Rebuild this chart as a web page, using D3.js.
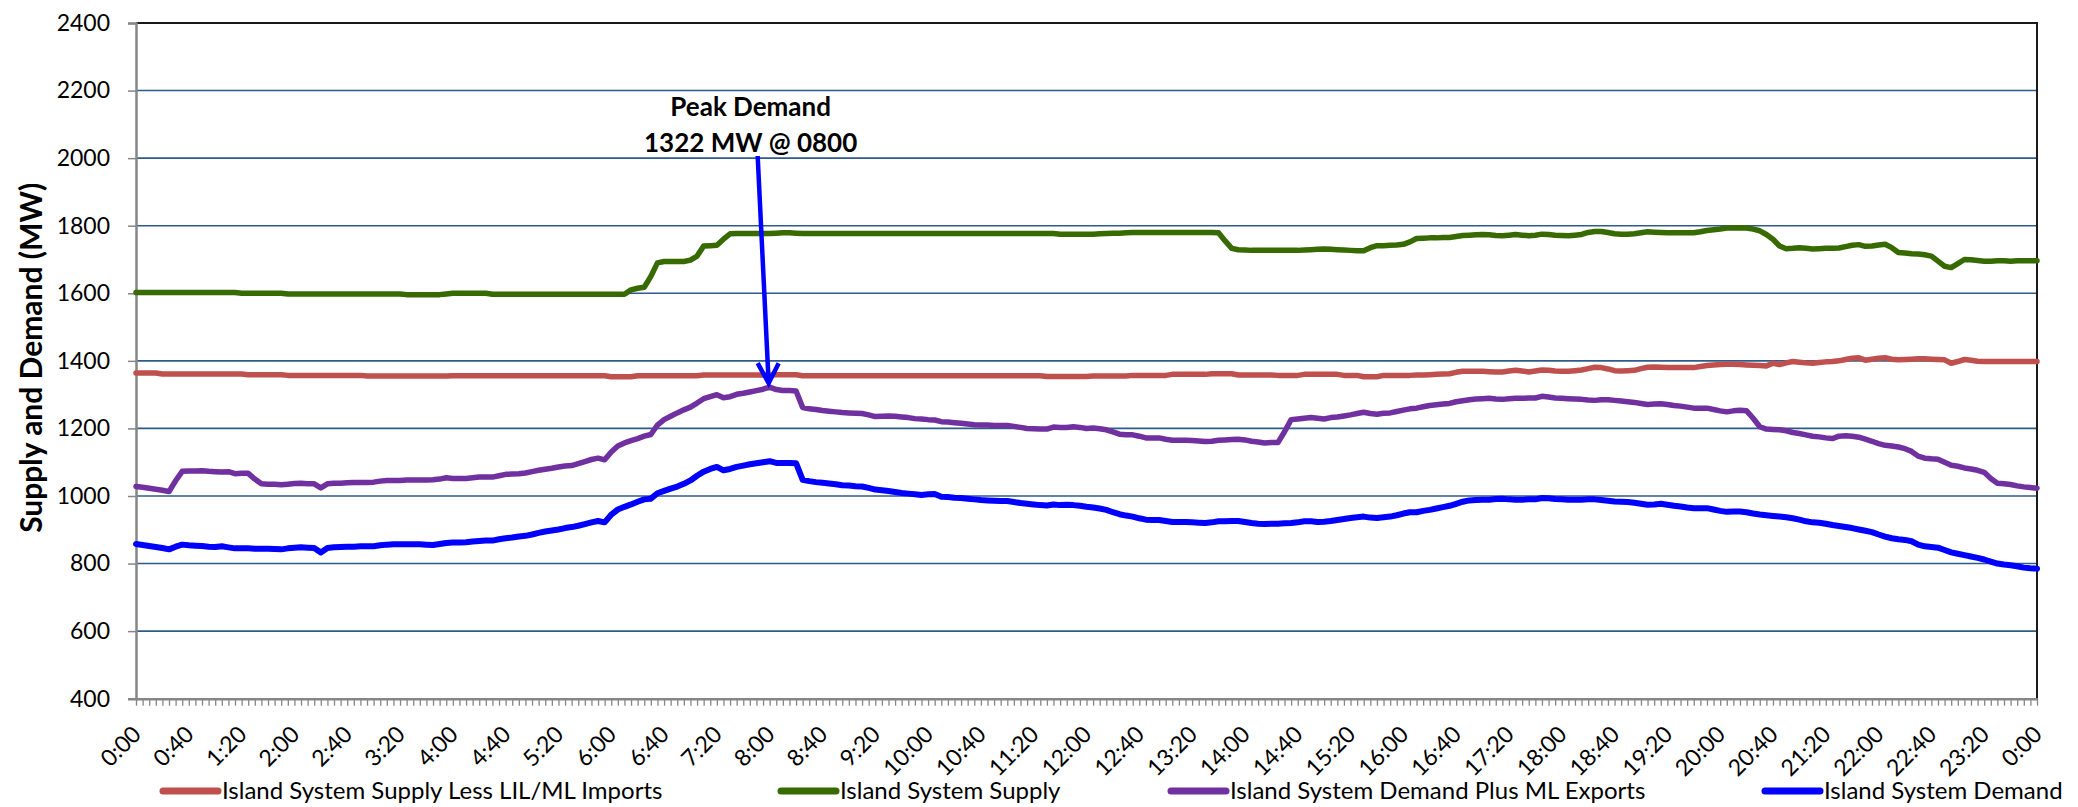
<!DOCTYPE html>
<html>
<head>
<meta charset="utf-8">
<script src="https://cdn.jsdelivr.net/npm/d3@7"></script>
<style>
  html, body { margin: 0; padding: 0; background: #fff; }
  svg { display: block; font-family: Lato, "Noto Sans", sans-serif; }
</style>
</head>
<body>
<svg id="chart"></svg>
<script>
// 5-minute readings from 0:00 to 0:00 the next day (289 points), MW
const supplyLessImports = [
  1364,1364,1364,1364,1361,1361,1361,1361,1361,1361,1361,1361,
  1361,1361,1361,1361,1361,1359,1359,1359,1359,1359,1359,1357,
  1357,1357,1357,1357,1357,1357,1357,1357,1357,1357,1357,1355,
  1355,1355,1355,1355,1355,1355,1355,1355,1355,1355,1355,1355,
  1356,1356,1356,1356,1356,1356,1356,1356,1356,1356,1356,1356,
  1356,1356,1356,1356,1356,1356,1356,1356,1356,1356,1356,1356,
  1353,1353,1353,1353,1356,1356,1356,1356,1356,1356,1356,1356,
  1356,1356,1358,1358,1358,1358,1358,1358,1358,1358,1358,1358,
  1358,1359,1359,1359,1359,1356,1356,1356,1356,1356,1356,1356,
  1356,1356,1356,1356,1356,1356,1356,1356,1356,1356,1356,1356,
  1356,1356,1356,1356,1356,1356,1356,1356,1356,1356,1356,1356,
  1356,1356,1356,1356,1356,1356,1354,1354,1354,1354,1354,1354,
  1354,1355,1355,1355,1355,1355,1355,1357,1357,1357,1357,1357,
  1357,1360,1360,1360,1360,1360,1360,1362,1362,1362,1362,1358,
  1358,1358,1358,1358,1358,1357,1357,1357,1357,1360,1360,1360,
  1360,1360,1360,1357,1357,1357,1353,1353,1353,1357,1357,1357,
  1357,1357,1358,1358,1359,1360,1361,1362,1366,1369,1369,1369,
  1369,1368,1367,1367,1370,1372,1370,1367,1370,1373,1372,1370,
  1369,1369,1371,1373,1377,1381,1380,1376,1371,1370,1371,1372,
  1377,1381,1382,1381,1380,1380,1380,1380,1380,1383,1386,1388,
  1389,1390,1390,1389,1388,1387,1386,1385,1393,1389,1394,1398,
  1396,1394,1393,1395,1397,1398,1400,1404,1408,1409,1402,1405,
  1408,1409,1405,1403,1404,1405,1406,1406,1405,1404,1403,1393,
  1398,1404,1402,1399,1398,1398,1398,1398,1398,1398,1398,1398,
  1398
];

const systemSupply = [
  1602,1602,1602,1602,1602,1602,1602,1602,1602,1602,1602,1602,
  1602,1602,1602,1602,1600,1600,1600,1600,1600,1600,1600,1598,
  1598,1598,1598,1598,1598,1598,1598,1598,1598,1598,1598,1598,
  1598,1598,1598,1598,1598,1596,1596,1596,1596,1596,1596,1598,
  1600,1600,1600,1600,1600,1600,1597,1597,1597,1597,1597,1597,
  1597,1597,1597,1597,1597,1597,1597,1597,1597,1597,1597,1597,
  1597,1597,1597,1610,1615,1618,1650,1690,1694,1694,1694,1694,
  1698,1710,1740,1741,1742,1760,1776,1777,1777,1777,1777,1777,
  1777,1778,1779,1779,1778,1777,1777,1777,1777,1777,1777,1777,
  1777,1777,1777,1777,1777,1777,1777,1777,1777,1777,1777,1777,
  1777,1777,1777,1777,1777,1777,1777,1777,1777,1777,1777,1777,
  1777,1777,1777,1777,1777,1777,1777,1777,1775,1775,1775,1775,
  1775,1775,1776,1777,1778,1778,1779,1780,1780,1780,1780,1780,
  1780,1780,1780,1780,1780,1780,1780,1780,1779,1755,1733,1729,
  1728,1727,1727,1727,1727,1727,1727,1727,1727,1728,1729,1730,
  1731,1730,1729,1728,1727,1726,1726,1735,1741,1741,1742,1743,
  1745,1752,1762,1763,1764,1764,1765,1765,1768,1771,1772,1773,
  1774,1773,1771,1770,1772,1774,1772,1770,1772,1775,1774,1772,
  1771,1770,1772,1774,1780,1783,1783,1780,1776,1775,1775,1776,
  1779,1782,1781,1780,1779,1779,1779,1779,1779,1782,1786,1788,
  1790,1793,1793,1794,1793,1790,1785,1774,1760,1740,1732,1733,
  1735,1733,1731,1732,1733,1733,1734,1738,1742,1744,1739,1740,
  1743,1745,1735,1721,1719,1717,1716,1714,1710,1695,1680,1676,
  1688,1700,1699,1697,1695,1695,1696,1696,1695,1696,1696,1696,
  1696
];

const demandPlusExports = [
  1028,1026,1023,1020,1017,1013,1045,1073,1074,1074,1075,1073,
  1072,1071,1072,1066,1067,1067,1050,1036,1035,1035,1033,1035,
  1037,1038,1036,1036,1024,1036,1038,1038,1039,1040,1040,1040,
  1041,1044,1046,1046,1046,1047,1047,1047,1047,1048,1050,1054,
  1052,1052,1052,1054,1056,1056,1056,1060,1064,1065,1066,1068,
  1072,1076,1079,1082,1086,1089,1090,1096,1102,1108,1112,1107,
  1130,1148,1157,1164,1170,1177,1182,1210,1226,1236,1246,1255,
  1263,1275,1288,1294,1300,1291,1294,1301,1304,1308,1312,1316,
  1322,1315,1312,1312,1311,1262,1258,1256,1253,1251,1249,1247,
  1246,1245,1244,1240,1235,1236,1237,1236,1234,1232,1229,1228,
  1226,1225,1220,1219,1217,1215,1213,1211,1210,1210,1209,1209,
  1209,1206,1203,1200,1199,1198,1198,1204,1203,1203,1205,1203,
  1200,1201,1199,1196,1190,1183,1181,1181,1177,1172,1172,1172,
  1168,1165,1165,1165,1164,1163,1161,1162,1165,1166,1167,1168,
  1166,1162,1160,1157,1158,1158,1190,1226,1228,1230,1232,1230,
  1228,1232,1234,1237,1240,1244,1248,1244,1242,1245,1246,1250,
  1254,1258,1260,1264,1268,1270,1272,1274,1279,1282,1285,1287,
  1288,1289,1287,1286,1288,1289,1289,1290,1290,1295,1293,1290,
  1289,1288,1287,1286,1284,1283,1285,1285,1283,1281,1279,1277,
  1274,1271,1272,1273,1271,1268,1266,1263,1260,1260,1260,1256,
  1252,1249,1252,1254,1252,1230,1205,1198,1197,1196,1193,1188,
  1185,1181,1177,1175,1172,1170,1177,1178,1177,1174,1168,1162,
  1155,1150,1148,1145,1140,1132,1118,1112,1110,1109,1100,1091,
  1088,1083,1080,1076,1070,1052,1038,1036,1034,1030,1027,1025,
  1023
];

const systemDemand = [
  858,855,852,849,846,842,850,856,854,853,852,850,
  849,851,848,845,845,845,844,844,844,843,842,845,
  847,848,847,846,833,846,848,849,850,850,851,851,
  851,854,856,857,857,857,857,857,856,855,858,861,
  862,862,863,865,867,868,868,872,875,877,880,882,
  886,891,895,898,901,905,908,912,917,922,926,922,
  945,960,968,975,983,990,992,1008,1015,1022,1028,1036,
  1046,1060,1072,1080,1086,1076,1080,1086,1090,1094,1097,1100,
  1103,1098,1098,1098,1097,1048,1044,1041,1039,1037,1035,1032,
  1031,1029,1028,1024,1019,1017,1015,1012,1009,1007,1005,1003,
  1005,1006,998,997,995,994,992,990,988,987,986,985,
  985,982,979,977,975,973,972,975,973,974,973,971,
  968,966,963,959,952,946,942,939,934,930,929,929,
  926,923,923,923,922,921,920,922,925,925,926,926,
  923,920,918,917,918,918,919,920,922,925,925,923,
  924,926,929,932,935,937,939,936,935,937,939,943,
  948,952,952,956,959,963,967,971,977,983,987,988,
  989,989,991,992,990,989,989,990,990,994,993,991,
  990,989,989,989,990,990,988,986,984,983,982,980,
  977,974,975,977,974,971,969,966,964,964,964,960,
  956,953,954,954,952,948,945,943,941,939,937,934,
  930,925,922,921,918,914,911,908,905,901,897,893,
  886,880,875,872,870,866,856,851,849,847,840,833,
  829,825,821,817,812,806,800,797,795,792,788,786,
  785
];

const xTickLabels = ['0:00','0:40','1:20','2:00','2:40','3:20','4:00','4:40','5:20','6:00',
  '6:40','7:20','8:00','8:40','9:20','10:00','10:40','11:20','12:00','12:40','13:20',
  '14:00','14:40','15:20','16:00','16:40','17:20','18:00','18:40','19:20','20:00',
  '20:40','21:20','22:00','22:40','23:20','0:00'];
const yTicks = [400, 600, 800, 1000, 1200, 1400, 1600, 1800, 2000, 2200, 2400];

const seriesNames = ['Island System Supply Less LIL/ML Imports', 'Island System Supply',
  'Island System Demand Plus ML Exports', 'Island System Demand'];
const seriesColors = ['#C0504D', '#376A00', '#7030A0', '#0000FF'];
const seriesData = [supplyLessImports, systemSupply, demandPlusExports, systemDemand];

const width = 2078, height = 807;
const margin = {top: 23, right: 41, bottom: 108.3, left: 136};
const w = width - margin.left - margin.right;
const h = height - margin.top - margin.bottom;

const svg = d3.select('#chart').attr('width', width).attr('height', height);
const chart = svg.append('g').attr('transform', `translate(${margin.left},${margin.top})`);

const x = d3.scaleLinear().domain([0, systemDemand.length - 1]).range([0, w]);
const y = d3.scaleLinear().domain([400, 2400]).range([h, 0]);

// gridlines
chart.append('g')
  .selectAll('line')
  .data(yTicks.filter(d => d > 400 && d < 2400))
  .join('line')
  .attr('x1', 0).attr('x2', w)
  .attr('y1', d => y(d)).attr('y2', d => y(d))
  .attr('stroke', '#2F5A8C')
  .attr('stroke-width', 1.6);

// plot border, top and right
chart.append('path')
  .attr('d', `M0,${y(2400)}H${w}V${h}`)
  .attr('fill', 'none')
  .attr('stroke', '#1a1a1a')
  .attr('stroke-width', 2);

// y axis
const yAxisG = chart.append('g')
  .call(d3.axisLeft(y).tickValues(yTicks).tickSize(8).tickPadding(18).tickFormat(d3.format('d')));
yAxisG.select('.domain').attr('stroke', '#868686').attr('stroke-width', 2.5);
yAxisG.selectAll('.tick line').attr('stroke', '#868686').attr('stroke-width', 1.5);
yAxisG.selectAll('.tick text')
  .attr('font-family', 'Lato, sans-serif')
  .attr('font-size', 23)
  .attr('fill', '#000');

// x axis: a tick at every 5-minute point, a label every 40 minutes
const xAxisG = chart.append('g')
  .attr('transform', `translate(0,${h})`)
  .call(d3.axisBottom(x)
    .tickValues(d3.range(systemDemand.length))
    .tickSize(7)
    .tickSizeOuter(0)
    .tickFormat(i => i % 8 === 0 ? xTickLabels[i / 8] : ''));
xAxisG.select('.domain').attr('stroke', '#868686').attr('stroke-width', 2.5);
xAxisG.selectAll('.tick line').attr('stroke', '#868686').attr('stroke-width', 1.3);
xAxisG.selectAll('.tick text')
  .attr('font-family', 'Lato, sans-serif')
  .attr('font-size', 23)
  .attr('fill', '#000')
  .attr('text-anchor', 'end')
  .attr('x', 0).attr('y', 0).attr('dy', 0)
  .attr('transform', 'translate(6,37) rotate(-45)');

// y axis title
svg.append('text')
  .attr('transform', `translate(42,${margin.top + h / 2 - 3}) rotate(-90)`)
  .attr('text-anchor', 'middle')
  .attr('font-size', 30)
  .attr('font-weight', 'bold')
  .text('Supply and Demand (MW)');

// series
const line = d3.line()
  .x((d, i) => x(i))
  .y(d => y(d));

chart.selectAll('.series')
  .data(seriesData)
  .join('path')
  .attr('class', 'series')
  .attr('d', line)
  .attr('fill', 'none')
  .attr('stroke', (d, i) => seriesColors[i])
  .attr('stroke-width', (d, i) => i === 3 ? 6 : 5.5)
  .attr('stroke-linejoin', 'round')
  .attr('stroke-linecap', 'round');

// peak annotation
const peakIdx = d3.maxIndex(demandPlusExports);
const peakMin = peakIdx * 5;
const peakTime = String(Math.floor(peakMin / 60)).padStart(2, '0') + String(peakMin % 60).padStart(2, '0');
const tipX = x(peakIdx) - 1, tipY = y(demandPlusExports[peakIdx]) - 4;

const note = chart.append('g').attr('font-weight', 'bold').attr('font-size', 26).attr('text-anchor', 'middle');
note.append('text').attr('x', tipX - 18).attr('y', 116 - margin.top).text('Peak Demand');
note.append('text').attr('x', tipX - 18).attr('y', 152 - margin.top)
  .text(`${demandPlusExports[peakIdx]} MW @ ${peakTime}`);

chart.append('path')
  .attr('d', `M${tipX - 11},${156 - margin.top}L${tipX},${tipY}` +
    `M${tipX - 11},${tipY - 20}L${tipX},${tipY}L${tipX + 10},${tipY - 20}`)
  .attr('fill', 'none')
  .attr('stroke', '#0000FF')
  .attr('stroke-width', 4.5)
  .attr('stroke-linejoin', 'miter');

// legend
const legendX = [163, 781, 1171, 1765];
const legend = svg.append('g')
  .selectAll('g')
  .data(seriesNames)
  .join('g')
  .attr('transform', (d, i) => `translate(${legendX[i]},791)`);
legend.append('line')
  .attr('x1', 0).attr('x2', 55)
  .attr('stroke', (d, i) => seriesColors[i])
  .attr('stroke-width', 7)
  .attr('stroke-linecap', 'round');
legend.append('text')
  .attr('x', 59).attr('y', 8)
  .attr('font-size', 24)
  .text(d => d);
</script>
</body>
</html>
